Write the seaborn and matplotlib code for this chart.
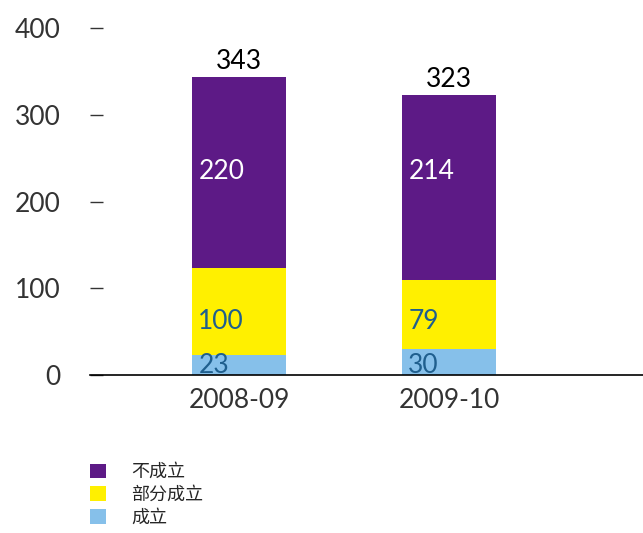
import numpy as np
import pandas as pd
import seaborn as sns
import matplotlib.pyplot as plt
from matplotlib.patches import Patch

# data
years = ["2008-09", "2009-10"]
success = [23, 30]          # 成立
partial = [100, 79]         # 部分成立
failed = [220, 214]         # 不成立
totals = [343, 323]
series_names = ["不成立", "部分成立", "成立"]
yticks = [0, 100, 200, 300, 400]

c_purple = "#5d1a86"
c_yellow = "#fff000"
c_blue = "#86c0ea"
c_text_blue = "#1f5f8e"

sns.set_style("white")
plt.rcParams['font.family'] = ['Lato', 'Noto Sans CJK SC', 'DejaVu Sans']

df = pd.DataFrame({"year": years,
                   "s": success,
                   "sp": np.add(success, partial),
                   "all": np.add(np.add(success, partial), failed)})

fig = plt.figure(figsize=(6.43, 5.33), dpi=100)
ax = fig.add_axes([90 / 643, 1 - 375 / 533, 1 - 90 / 643, (375 - 28) / 533])

w = 0.448
sns.barplot(data=df, x="year", y="all", color=c_purple, width=w, saturation=1, linewidth=0, ax=ax)
sns.barplot(data=df, x="year", y="sp", color=c_yellow, width=w, saturation=1, linewidth=0, ax=ax)
sns.barplot(data=df, x="year", y="s", color=c_blue, width=w, saturation=1, linewidth=0, ax=ax)

ax.set_xlim(-0.71, 1.924)
ax.set_ylim(0, 400)
ax.set_xlabel("")
ax.set_ylabel("")
for s in ["top", "right", "left"]:
    ax.spines[s].set_visible(False)
ax.spines["bottom"].set_color("black")
ax.spines["bottom"].set_linewidth(1.2)

ax.set_yticks(yticks)
ax.set_yticklabels([str(t) for t in yticks], fontsize=19, color="#333333")
ax.tick_params(axis="y", direction="in", length=9.5, width=1, color="#333333", pad=21, left=True)
ax.tick_params(axis="x", length=0, pad=9, labelsize=19, labelcolor="#333333")

# labels inside bars
label_y = {"failed": 235, "partial": 62, "success": 11}
for i in range(len(years)):
    x0 = i - w / 2 + 0.03
    ax.text(x0, label_y["failed"], str(failed[i]), color="white", fontsize=19,
            va="center", ha="left")
    ax.text(x0, label_y["partial"], str(partial[i]), color=c_text_blue, fontsize=19,
            va="center", ha="left")
    ax.text(x0, label_y["success"], str(success[i]), color=c_text_blue, fontsize=19,
            va="center", ha="left", clip_on=False)
    ax.text(i, totals[i] + 18, str(totals[i]), color="black", fontsize=19,
            va="center", ha="center", clip_on=False)

# legend
handles = [Patch(facecolor=c, edgecolor="none") for c in [c_purple, c_yellow, c_blue]]
fig.legend(handles, series_names, loc="upper left", bbox_to_anchor=(83 / 643, 1 - 456 / 533),
           frameon=False, prop={"family": ["Noto Sans CJK SC"], "size": 13, "weight": "medium"},
           handlelength=0.9, handleheight=0.9, handletextpad=1.35, labelspacing=0.26,
           borderaxespad=0)

fig.savefig("out.png", dpi=100)
